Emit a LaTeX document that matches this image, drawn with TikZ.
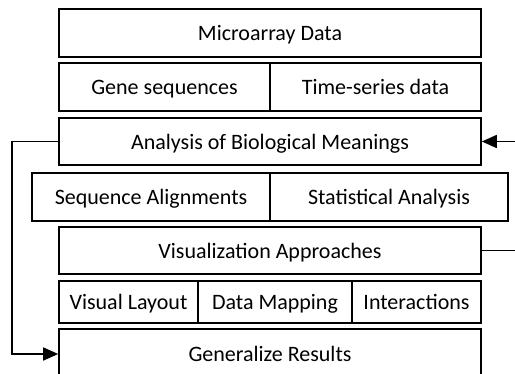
\documentclass[tikz,border=0pt]{standalone}
\usepackage{fontspec}
\setmainfont{Carlito}
\usetikzlibrary{arrows.meta}
\begin{document}
\begin{tikzpicture}[x=1pt,y=-1pt,
  box/.style={draw, line width=1.6pt, inner sep=0pt, text depth=0pt, font=\fontsize{22}{26}\selectfont},
  conn/.style={line width=1.6pt},
  tip/.style={-{Triangle[length=15pt,width=13pt]}}]
\clip (0,0) rectangle (515,373);
\fill[white] (0,0) rectangle (515,373);
\node[box, minimum width=422pt, minimum height=48pt] (micro) at (270,33) {Microarray Data};
\node[box, minimum width=211pt, minimum height=48pt] (gene) at (164.5,87) {Gene sequences};
\node[box, minimum width=211pt, minimum height=48pt] (time) at (375.5,87) {Time-series data};
\node[box, minimum width=422pt, minimum height=47pt] (anal) at (270,141.5) {Analysis of Biological Meanings};
\node[box, minimum width=238pt, minimum height=48pt] (seq) at (151,197) {Sequence Alignments};
\node[box, minimum width=238pt, minimum height=48pt] (stat) at (389,197) {Statistical Analysis};
\node[box, minimum width=422pt, minimum height=47pt] (vis) at (270,250.5) {Visualization Approaches};
\node[box, minimum width=139pt, minimum height=42pt] (layout) at (128.5,302) {Visual Layout};
\node[box, minimum width=154pt, minimum height=42pt] (map) at (275,302) {Data Mapping};
\node[box, minimum width=129pt, minimum height=42pt] (inter) at (416.5,302) {Interactions};
\node[box, minimum width=422pt, minimum height=50pt] (gen) at (270,354) {Generalize Results};
\coordinate (rin) at (520,141.5);
\coordinate (rout) at (520,250.5);
\coordinate (lx) at (12,0);
\draw[conn,tip] (rin) -- (anal.east);
\draw[conn] (vis.east) -- (rout);
\draw[conn,tip] (anal.west) -- (anal.west -| lx) -- (gen.west -| lx) -- (gen.west);
\end{tikzpicture}
\end{document}
